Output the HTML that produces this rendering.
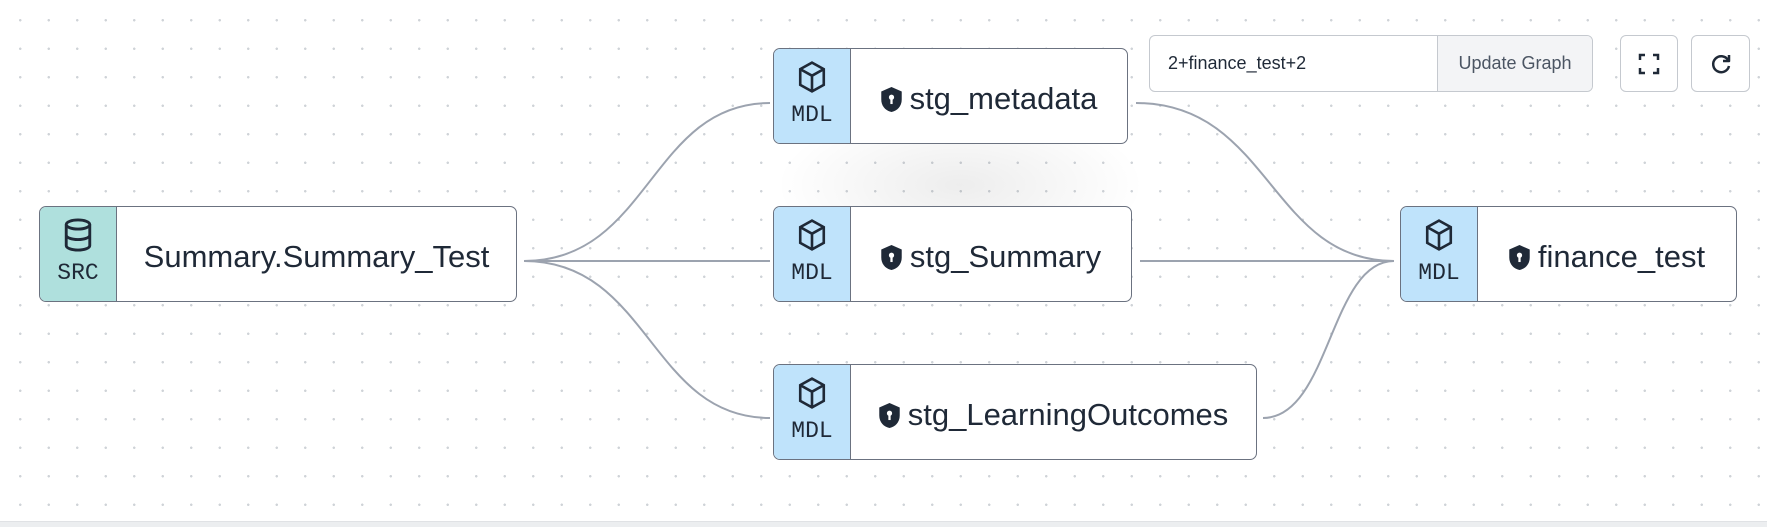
<!DOCTYPE html>
<html><head><style>
body{margin:0;width:1767px;height:526px;overflow:hidden;background:#fff;font-family:"Liberation Sans",sans-serif;position:relative;
background-image:radial-gradient(circle,#cfd3d8 1.1px,transparent 1.4px);background-size:28.5px 28.5px;background-position:6px 6px;}
.glow{position:absolute;left:760px;top:100px;width:400px;height:170px;background:radial-gradient(ellipse at center,rgba(0,0,0,0.07),rgba(0,0,0,0) 65%);}
.node{position:absolute;border:1.5px solid #6b7280;border-radius:7px;background:#fff;box-sizing:border-box;display:flex;overflow:hidden}
.badge{width:76px;border-right:1.5px solid #6b7280;display:flex;flex-direction:column;align-items:center;justify-content:center;background:#bfe3fb;font-family:"Liberation Mono",monospace;font-size:23px;color:#1f2937}
.badge.src{background:#afe0dd}
.badge svg{margin-bottom:8px;margin-top:-4px}
.lbl{flex:1;display:flex;align-items:center;justify-content:center;font-size:31px;color:#1f2937;gap:8px;padding-top:6px}
.shield{width:21px;height:25px}
.box{position:absolute;border:1.5px solid #c5c9cf;border-radius:6px;box-sizing:border-box;background:#fff}
</style></head><body>
<div class="glow"></div>
<svg width="1767" height="526" style="position:absolute;left:0;top:0" fill="none" stroke="#9ca3af" stroke-width="2">
<path d="M524 261 C650 261 650 103 770 103"/>
<path d="M524 261 L770 261"/>
<path d="M524 261 C650 261 650 418 770 418"/>
<path d="M1136 103 C1270 103 1270 261 1394 261"/>
<path d="M1140 261 L1394 261"/>
<path d="M1263 418 C1330 418 1330 261 1394 261"/>
</svg>
<div class="node" style="left:39px;top:206px;width:478px;height:96px">
 <div class="badge src"><svg width="32" height="34" viewBox="0 0 24 26" stroke="#1f2937" stroke-width="2.2" fill="none"><ellipse cx="12" cy="5" rx="9" ry="3.5"/><path d="M3 5v16c0 2 4 3.5 9 3.5s9-1.5 9-3.5V5M3 13c0 2 4 3.5 9 3.5s9-1.5 9-3.5"/></svg>SRC</div>
 <div class="lbl">Summary.Summary_Test</div></div>
<div class="node" style="left:773px;top:48px;width:355px;height:96px">
 <div class="badge"><svg width="32" height="34" viewBox="0 0 24 26" stroke="#1f2937" stroke-width="2" fill="none"><path d="M12 2l9 5v12l-9 5-9-5V7z M3 7l9 5 9-5 M12 12v12"/></svg>MDL</div>
 <div class="lbl"><svg class="shield" viewBox="0 0 18 22"><path d="M9 0L18 4v7c0 6-4 10-9 11C4 21 0 17 0 11V4z" fill="#1f2937"/><circle cx="9" cy="9" r="2.3" fill="#fff"/><rect x="8" y="10" width="2" height="5" fill="#fff"/></svg>stg_metadata</div></div>
<div class="node" style="left:773px;top:206px;width:359px;height:96px">
 <div class="badge"><svg width="32" height="34" viewBox="0 0 24 26" stroke="#1f2937" stroke-width="2" fill="none"><path d="M12 2l9 5v12l-9 5-9-5V7z M3 7l9 5 9-5 M12 12v12"/></svg>MDL</div>
 <div class="lbl"><svg class="shield" viewBox="0 0 18 22"><path d="M9 0L18 4v7c0 6-4 10-9 11C4 21 0 17 0 11V4z" fill="#1f2937"/><circle cx="9" cy="9" r="2.3" fill="#fff"/><rect x="8" y="10" width="2" height="5" fill="#fff"/></svg>stg_Summary</div></div>
<div class="node" style="left:773px;top:364px;width:484px;height:96px">
 <div class="badge"><svg width="32" height="34" viewBox="0 0 24 26" stroke="#1f2937" stroke-width="2" fill="none"><path d="M12 2l9 5v12l-9 5-9-5V7z M3 7l9 5 9-5 M12 12v12"/></svg>MDL</div>
 <div class="lbl"><svg class="shield" viewBox="0 0 18 22"><path d="M9 0L18 4v7c0 6-4 10-9 11C4 21 0 17 0 11V4z" fill="#1f2937"/><circle cx="9" cy="9" r="2.3" fill="#fff"/><rect x="8" y="10" width="2" height="5" fill="#fff"/></svg>stg_LearningOutcomes</div></div>
<div class="node" style="left:1400px;top:206px;width:337px;height:96px">
 <div class="badge"><svg width="32" height="34" viewBox="0 0 24 26" stroke="#1f2937" stroke-width="2" fill="none"><path d="M12 2l9 5v12l-9 5-9-5V7z M3 7l9 5 9-5 M12 12v12"/></svg>MDL</div>
 <div class="lbl"><svg class="shield" viewBox="0 0 18 22"><path d="M9 0L18 4v7c0 6-4 10-9 11C4 21 0 17 0 11V4z" fill="#1f2937"/><circle cx="9" cy="9" r="2.3" fill="#fff"/><rect x="8" y="10" width="2" height="5" fill="#fff"/></svg>finance_test</div></div>
<div class="box" style="left:1149px;top:35px;width:444px;height:57px;overflow:hidden">
 <div style="position:absolute;left:18px;top:17px;font-size:18px;color:#1f2937">2+finance_test+2</div>
 <div style="position:absolute;left:287px;top:0;right:0;bottom:0;background:#f3f4f6;border-left:1.5px solid #c5c9cf;display:flex;align-items:center;justify-content:center;font-size:18px;color:#4b5563">Update Graph</div>
</div>
<div class="box" style="left:1620px;top:35px;width:58px;height:57px;display:flex;align-items:center;justify-content:center">
 <svg width="22" height="22" viewBox="0 0 22 22" stroke="#1f2937" stroke-width="2.5" fill="none"><path d="M2 7V2h5M15 2h5v5M20 15v5h-5M7 20H2v-5"/></svg></div>
<div class="box" style="left:1691px;top:35px;width:59px;height:57px;display:flex;align-items:center;justify-content:center">
 <svg width="22" height="22" viewBox="0 0 22 22" stroke="#1f2937" stroke-width="2.5" fill="none"><path d="M18 7A8 8 0 1 0 19 13"/><path d="M19 2v6h-6" stroke-linejoin="round"/></svg></div>
<div style="position:absolute;left:0;top:521px;width:1767px;height:5px;background:#eceef0;border-top:1px solid #e0e2e5"></div>
</body></html>
